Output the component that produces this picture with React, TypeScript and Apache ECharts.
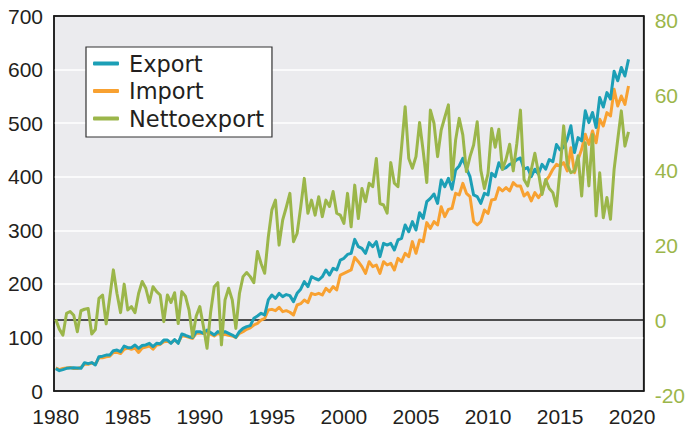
import React, { useEffect, useRef } from "react";
import * as echarts from "echarts";

const startYear = 1980;
const xTickYears = [1980, 1985, 1990, 1995, 2000, 2005, 2010, 2015, 2020];
const leftTicks = [0, 100, 200, 300, 400, 500, 600, 700];

const exportVals = [
  41.7, 38, 40, 42.3, 43, 43.6, 43, 42.3, 52.9, 51, 53, 48.5, 64, 65, 67, 67, 75.3, 76.5, 73.4, 84,
  80.9, 81, 85.9, 79.6, 85, 85.9, 89, 82.8, 89, 88, 95, 95.2, 89, 96, 89, 106.4, 104, 101.4, 100, 110.8,
  110.8, 107.6, 113.9, 109, 104.5, 110.8, 108, 110.8, 107.6, 104.5, 100.2, 110.8, 117, 120.1, 122, 135.6, 140, 145, 141.9, 169.9,
  179.2, 173, 182.3, 176.1, 180, 178, 166.8, 182.3, 190, 204.1, 194.8, 213.4, 210, 207.2, 213.4, 225.9, 216.5, 229, 225.9, 244.5,
  247.6, 255, 257, 283.1, 269.4, 266.3, 257, 276.9, 269.4, 278.8, 250.8, 275.6, 272.5, 275.6, 263.2, 281.9, 285, 309.9, 297.4, 316.1,
  300.5, 332.9, 322.3, 353.4, 359.6, 367.7, 350.3, 393.9, 381.4, 397, 376.5, 412.5, 420, 434.3, 415.6, 400, 365.9, 362.8, 350.3, 369,
  365.9, 406.3, 400, 426, 414, 417, 423, 426, 432, 435, 414, 417, 400, 414, 405, 423, 414, 432, 428, 460,
  450, 455, 470, 495, 445, 473, 467, 523, 501, 520, 492, 548, 530, 557, 545, 597, 579, 604, 588, 619,
];

const importVals = [
  43, 40, 42, 43, 44, 42, 42, 44, 50, 50, 52, 50, 62, 62, 64, 65, 72, 72, 70, 78,
  80, 78, 80, 72, 80, 82, 84, 78, 86, 87, 92, 93, 90, 95, 90, 103, 102, 100, 98, 108,
  107.6, 108, 110.8, 106, 102.7, 107.6, 105, 106, 104, 102.7, 99.6, 107.6, 110.8, 115.1, 118, 123.2, 126.3, 132.5, 135.6, 151.2,
  152.4, 150, 156.2, 148.1, 150, 147, 141.9, 160.5, 163, 169.9, 164.9, 182.3, 180, 182.3, 179.2, 191.6, 185.4, 194.8, 188.5, 216.5,
  219.6, 222.8, 225.9, 249.5, 241.4, 232.1, 219.6, 241.4, 232.1, 235.2, 219.6, 241.4, 235.2, 238.3, 225.9, 247.6, 241.4, 257, 250.8, 278.8,
  257, 281.9, 278.8, 314.3, 303.6, 316.1, 309.9, 344.1, 325.4, 339.1, 341, 369, 365.9, 387.6, 369, 362.8, 316.1, 309.9, 316.1, 337.9,
  331.6, 356.6, 357.8, 379.5, 373.3, 379.5, 373.3, 388.9, 382.7, 382.7, 364, 370.2, 354.7, 370.2, 360.9, 370.2, 392, 401.3, 413.8, 423.1,
  420, 426.2, 410.7, 454.2, 407.6, 432.4, 451.2, 479.2, 460.4, 485.3, 463.5, 507.1, 494.7, 519.6, 513.3, 563.1, 532, 550.7, 535.1, 569.4,
];

const nettoVals = [
  0.1, -2.5, -4.1, 1.7, 2.2, 1.2, -3.2, 2.4, 2.8, 3.0, -3.8, -2.6, 5.7, 6.6, -1.1, 6, 13.3, 7.0, 1.9, 9.5,
  2.6, 3.5, 1.9, 7, 10.2, 8.4, 4.6, 8.8, 7.5, 6.6, -0.5, 6.6, 4.6, 7.2, -1.0, 7.5, 6.3, 2.6, -4.5, 1,
  3.5, -1.8, -7.6, 2, 8.8, 9.9, -6.7, 5.3, 8.4, 5.3, -2.3, 7.0, 11.5, 12.6, 11.5, 9.9, 18.2, 15.0, 12.4, 22,
  29.3, 31.9, 19.9, 26.6, 30, 33.7, 20.8, 23.0, 30, 37.7, 28.4, 31.9, 27.9, 32.8, 27.5, 31.9, 30.2, 34.2, 28.4, 27.9,
  25.7, 33.7, 24.8, 35.9, 27.0, 35.0, 31.5, 36.4, 35.5, 43.0, 31.0, 30.6, 28.4, 41.9, 36.4, 35.5, 46, 56.8, 43.0, 40.4,
  43.5, 52.6, 45, 36.6, 55.9, 52.4, 43.5, 50.6, 54, 57.3, 37.3, 47.9, 53.7, 49.3, 39.5, 43.5, 46.6, 52.8, 39.9, 35.0,
  39.0, 51.0, 46, 50.8, 40.1, 42.8, 46.8, 39.7, 47, 55.9, 37.4, 35.7, 40, 44.4, 39.2, 33.4, 37.4, 35, 33.9, 30.3,
  40, 51.7, 41.4, 39.2, 39.7, 43.7, 33.0, 47.2, 35.7, 49.4, 27.7, 39.2, 27.2, 32.6, 26.8, 40.1, 48, 55.7, 46.3, 50.1,
];

const quarterTimes = exportVals.map((_, i) => startYear + i / 4);
const pairs = (vals: number[]) => vals.map((v, i) => [quarterTimes[i], v]);

const BLUE = "#1c9fb6";
const ORANGE = "#f8a131";
const GREEN = "#9bb64a";
const AXIS_FONT = "Liberation Sans";
const LEGEND_FONT = "DejaVu Sans";
const DARK = "#231f20";

export default function App() {
  const ref = useRef<HTMLDivElement>(null);
  useEffect(() => {
    if (!ref.current) return;
    const chart = echarts.init(ref.current, null, { renderer: "svg" });
    chart.setOption({
      animation: false,
      backgroundColor: "#ffffff",
      textStyle: { fontFamily: AXIS_FONT },
      grid: {
        left: 54,
        top: 16,
        width: 598,
        height: 375,
        show: true,
        backgroundColor: "#ebebee",
        borderColor: "#1a1a1a",
        borderWidth: 1.5,
      },
      legend: {
        orient: "vertical",
        left: 86,
        top: 47,
        data: ["Export", "Import", "Nettoexport"],
        backgroundColor: "#ffffff",
        borderColor: "#333333",
        borderWidth: 1.2,
        padding: [5, 8, 7, 7],
        itemGap: 4.5,
        itemWidth: 26,
        itemHeight: 4,
        icon: "roundRect",
        textStyle: { fontSize: 22.5, fontFamily: LEGEND_FONT, color: DARK, lineHeight: 22.5, padding: [0, 0, 0, 5] },
      },
      xAxis: [
        {
          type: "value",
          min: 1979.88,
          max: 2020.8,
          axisLine: { show: true, onZero: false, lineStyle: { color: "#1a1a1a", width: 1.5 } },
          axisTick: { show: false },
          splitLine: { show: false },
          axisLabel: {
            customValues: xTickYears,
            fontSize: 21,
            color: DARK,
            margin: 15,
            fontFamily: AXIS_FONT,
            formatter: (v: number) => String(Math.round(v)),
          },
        },
        {
          type: "value",
          position: "top",
          min: 1979.88,
          max: 2020.8,
          axisLine: { show: true, onZero: false, lineStyle: { color: "#1a1a1a", width: 1.5 } },
          axisTick: { show: false },
          splitLine: { show: false },
          axisLabel: { show: false },
        },
      ],
      yAxis: [
        {
          type: "value",
          min: 0,
          max: 700,
          interval: 100,
          axisLine: { show: true, lineStyle: { color: "#1a1a1a", width: 1.5 } },
          axisTick: { show: false },
          splitLine: { show: true, showMinLine: false, showMaxLine: false, lineStyle: { color: "#ffffff", width: 1.5 } },
          axisLabel: { customValues: leftTicks, fontSize: 21, color: DARK, margin: 11, fontFamily: AXIS_FONT },
        },
        {
          type: "value",
          min: -19,
          max: 81,
          position: "right",
          axisLine: { show: true, lineStyle: { color: "#1a1a1a", width: 1.5 } },
          axisTick: { show: false },
          splitLine: { show: false },
          axisLabel: { show: false },
        },
        {
          type: "value",
          min: -20,
          max: 80,
          interval: 20,
          position: "right",
          axisLine: { show: false },
          axisTick: { show: false },
          splitLine: { show: false },
          axisLabel: {
            fontSize: 21,
            color: GREEN,
            margin: 11,
            fontFamily: AXIS_FONT,
            verticalAlign: "top",
            lineHeight: 8,
          },
        },
      ],
      series: [
        {
          name: "Import",
          type: "line",
          data: pairs(importVals),
          showSymbol: false,
          symbol: "none",
          lineStyle: { color: ORANGE, width: 3, join: "round" },
          itemStyle: { color: ORANGE },
        },
        {
          name: "Export",
          type: "line",
          data: pairs(exportVals),
          showSymbol: false,
          symbol: "none",
          lineStyle: { color: BLUE, width: 3, join: "round" },
          itemStyle: { color: BLUE },
        },
        {
          name: "Nettoexport",
          type: "line",
          yAxisIndex: 1,
          data: pairs(nettoVals),
          showSymbol: false,
          symbol: "none",
          lineStyle: { color: GREEN, width: 3, join: "round" },
          itemStyle: { color: GREEN },
          markLine: {
            silent: true,
            z: 1,
            symbol: "none",
            label: { show: false },
            lineStyle: { color: "#1a1a1a", width: 1.5, type: "solid" },
            data: [{ yAxis: 0 }],
          },
        },
      ],
    });
    return () => chart.dispose();
  }, []);
  return (
    <div
      ref={ref}
      style={{ position: "fixed", left: 0, top: 0, width: 688, height: 429, background: "#fff" }}
    />
  );
}
